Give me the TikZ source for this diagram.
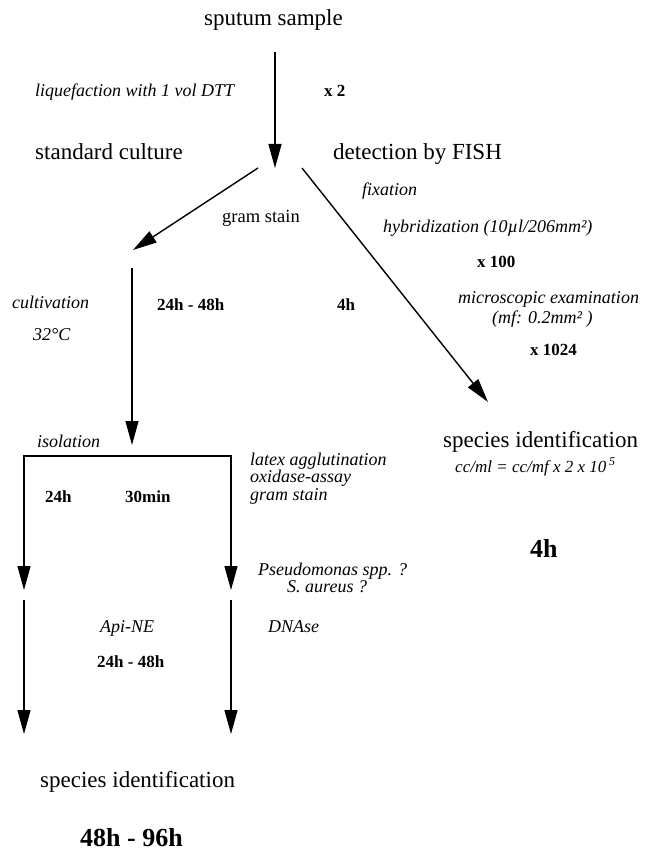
\documentclass[tikz,border=0pt]{standalone}
\usepackage{fontspec}
\setmainfont{Liberation Serif}
\usetikzlibrary{arrows.meta}
\begin{document}
\begin{tikzpicture}[x=1pt,y=-1pt,
  big/.style={font=\fontsize{23}{25}\selectfont, inner sep=0pt, anchor=base west},
  lab/.style={font=\fontsize{18}{20}\selectfont\itshape, inner sep=0pt, anchor=base west},
  reg/.style={font=\fontsize{18.5}{20}\selectfont, inner sep=0pt, anchor=base west},
  bl/.style={font=\fontsize{17}{19}\selectfont\bfseries, inner sep=0pt, anchor=base west},
  hugebl/.style={font=\fontsize{26}{28}\selectfont\bfseries, inner sep=0pt, anchor=base west},
  arr/.style={line width=1.4pt, -{Triangle[length=24pt,width=13pt]}},
  dblarr/.style={line width=1.4pt, line join=miter, {Triangle[length=24pt,width=13pt]}-{Triangle[length=24pt,width=13pt]}}]
\useasboundingbox (0,0) rectangle (645,853);
% texts
\node[big] (sputum) at (204,26) {sputum sample};
\node[lab] (liq) at (35,97) {liquefaction with 1 vol DTT};
\node[bl] (x2) at (324,97) {x 2};
\node[big] (std) at (35,160) {standard culture};
\node[big] (fish) at (333,160) {detection by FISH};
\node[lab] (fix) at (362,195) {fixation};
\node[reg] (gram) at (222,222) {gram stain};
\node[lab] (hyb) at (383,232) {hybridization (10µl/206mm²)};
\node[bl] (x100) at (477,267) {x 100};
\node[lab] (cult) at (12,308) {cultivation};
\node[lab] (temp) at (33,340) {32°C};
\node[bl] (t1) at (157,310) {24h - 48h};
\node[bl] (t2) at (337,310) {4h};
\node[lab] (micro) at (458,303) {microscopic examination};
\node[lab] (mf) at (492,323) {(mf: 0.2mm² )};
\node[bl] (x1024) at (530,355) {x 1024};
\node[big] (sid1) at (443,447) {species identification};
\node[lab, font=\fontsize{17}{19}\selectfont\itshape] (cc) at (455,472) {cc/ml = cc/mf x 2 x 10\,\textsuperscript{5}};
\node[hugebl] (t3) at (530,557) {4h};
\node[lab] (iso) at (37,447) {isolation};
\node[lab] (latex) at (250,465) {latex agglutination};
\node[lab] (oxi) at (250,482) {oxidase-assay};
\node[lab] (gram2) at (250,500) {gram stain};
\node[bl] (t4) at (45,502) {24h};
\node[bl] (t5) at (125,502) {30min};
\node[lab] (pseudo) at (258,575) {Pseudomonas spp. ?};
\node[lab] (saur) at (287,592) {S. aureus ?};
\node[lab] (api) at (100,632) {Api-NE};
\node[lab] (dnase) at (268,632) {DNAse};
\node[bl] (t6) at (97,667) {24h - 48h};
\node[big] (sid2) at (40,787) {species identification};
\node[hugebl] (t7) at (80,846) {48h - 96h};
% connector end points
\coordinate (a0) at (275,52);
\coordinate (a1) at (275,168);
\coordinate (l0) at (258,168);
\coordinate (l1) at (133,250);
\coordinate (r0) at (302,168);
\coordinate (r1) at (488,402);
\coordinate (v0) at (132,268);
\coordinate (v1) at (132,445);
\coordinate (b0) at (24,590);
\coordinate (bl) at (24,456);
\coordinate (br) at (231,456);
\coordinate (b1) at (231,590);
\coordinate (d0) at (24,600);
\coordinate (d1) at (24,734);
\coordinate (e0) at (231,600);
\coordinate (e1) at (231,734);
% connectors
\draw[arr] (a0) -- (a1);
\draw[arr] (l0) -- (l1);
\draw[arr] (r0) -- (r1);
\draw[arr] (v0) -- (v1);
\draw[dblarr] (b0) -- (bl) -- (br) -- (b1);
\draw[arr] (d0) -- (d1);
\draw[arr] (e0) -- (e1);
\end{tikzpicture}
\end{document}
